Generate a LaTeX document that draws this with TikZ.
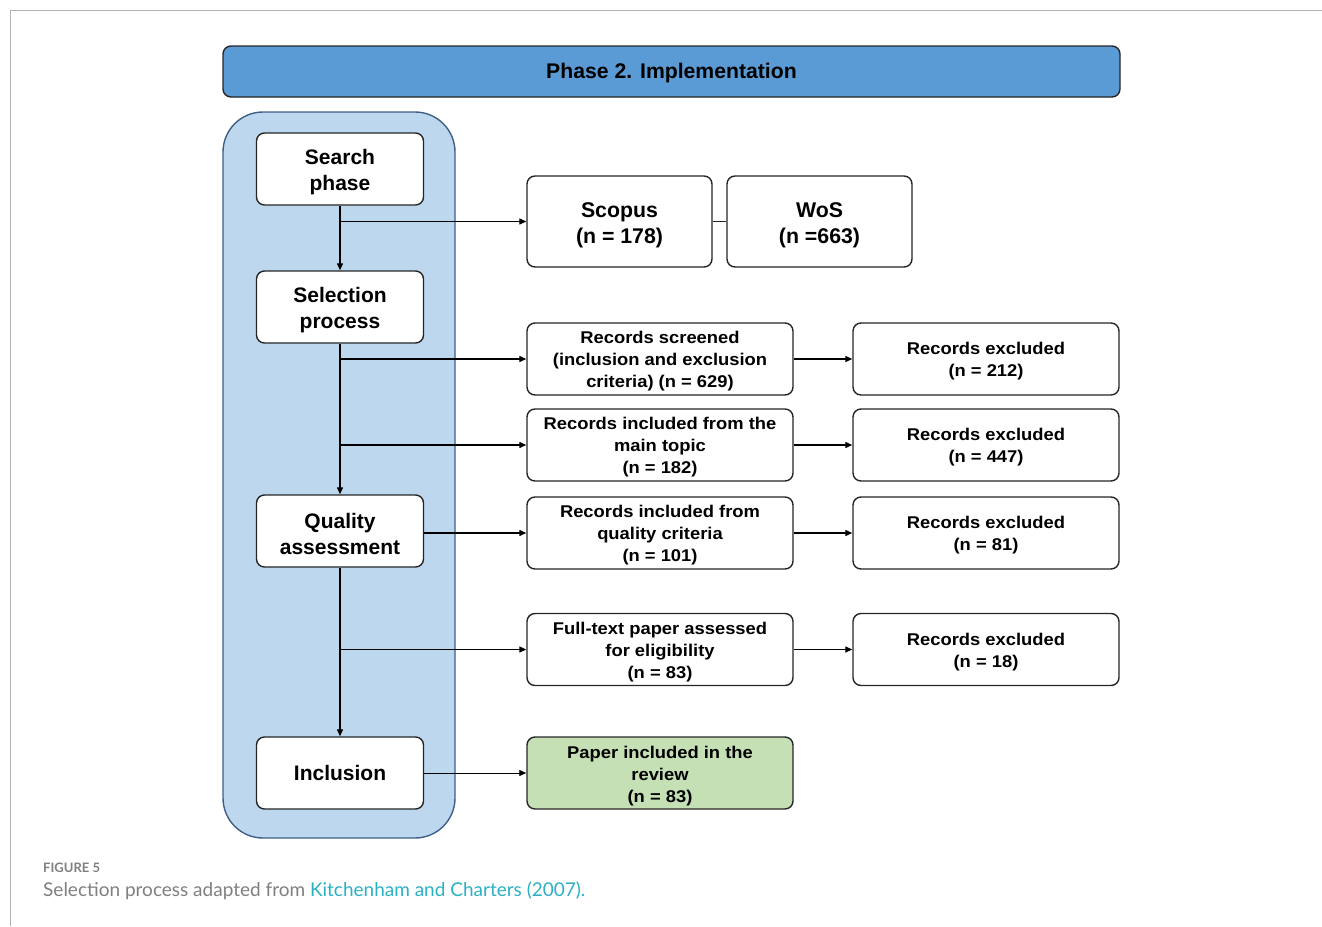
\documentclass[tikz,border=0pt]{standalone}
\usepackage{fontspec}
\setmainfont{Liberation Sans}
\newfontfamily\widesans[FakeStretch=1.08]{Liberation Sans}
\newfontfamily\capfont{Lato}
\usetikzlibrary{arrows.meta}
\definecolor{headblue}{HTML}{5B9BD5}
\definecolor{panelblue}{HTML}{BDD7EE}
\definecolor{panelline}{HTML}{3F5F86}
\definecolor{paleGreen}{HTML}{C5E0B4}
\definecolor{edge}{HTML}{262626}
\definecolor{capgray}{HTML}{7F7F7F}
\definecolor{linkteal}{HTML}{2BB0C4}
% invisible strut on the first line, so multi-line labels sit a little lower
\newcommand\lift{\rule{0pt}{1.03em}}
\tikzset{
  box/.style={draw=edge, line width=1.4pt, rounded corners=8pt, fill=white,
    align=center, inner sep=2pt, font=\widesans\bfseries\fontsize{17}{22}\selectfont},
  stage/.style={box, minimum width=167pt, minimum height=72pt,
    font=\bfseries\fontsize{21}{26}\selectfont},
  result/.style={box, minimum width=266pt, minimum height=72pt},
  source/.style={box, minimum width=185pt, minimum height=91pt,
    font=\bfseries\fontsize{21.3}{26}\selectfont},
  flow/.style={draw=black, line width=1.3pt, -{Triangle[length=7pt,width=6pt]}},
  link/.style={draw=edge, line width=1.3pt}
}
\begin{document}
\begin{tikzpicture}[x=1pt,y=-1pt]
\useasboundingbox (0,0) rectangle (1322,926);
% page frame
\draw[gray!60, line width=1pt] (1322,10) -- (10,10) -- (10,926);

% title bar
\node[draw=edge, line width=1.4pt, rounded corners=8pt, fill=headblue,
  minimum width=897pt, minimum height=51pt,
  font=\bfseries\fontsize{21.2}{24}\selectfont] (head) at (671.5,71.5) {\rule{0pt}{17.5pt}Phase 2. Implementation};

% stage column
\draw[draw=panelline, line width=1.4pt, fill=panelblue, rounded corners=40pt]
  (223,112) rectangle (455,838);

\node[stage] (search)  at (340,169) {\lift Search\\phase};
\node[stage] (select)  at (340,307) {\lift Selection\\process};
\node[stage] (quality) at (340,531) {\lift Quality\\assessment};
\node[stage] (incl)    at (340,773) {Inclusion};

% databases
\node[source] (scopus) at (619.5,221.5) {\lift Scopus\\(n = 178)};
\node[source] (wos)    at (819.5,221.5) {\lift WoS\\(n =663)};

% records
\node[result] (scr)   at (660,359)   {\lift Records screened\\(inclusion and exclusion\\criteria) (n = 629)};
\node[result] (topic) at (660,445)   {\lift Records included from the\\main topic\\(n = 182)};
\node[result] (qual)  at (660,533)   {\lift Records included from\\quality criteria\\(n = 101)};
\node[result] (full)  at (660,649.5) {\lift Full-text paper assessed\\for eligibility\\(n = 83)};
\node[result, fill=paleGreen] (paper) at (660,773) {\lift Paper included in the\\review\\(n = 83)};

\node[result] (ex1) at (986,359)   {\lift Records excluded\\(n = 212)};
\node[result] (ex2) at (986,445)   {\lift Records excluded\\(n = 447)};
\node[result] (ex3) at (986,533)   {\lift Records excluded\\(n = 81)};
\node[result] (ex4) at (986,649.5) {\lift Records excluded\\(n = 18)};

% branch points on the main spine
\coordinate (b1) at (340,221.5);
\coordinate (b2) at (340,359);
\coordinate (b3) at (340,445);
\coordinate (b4) at (340,649.5);

% main spine
\draw[flow] (search.south) -- (select.north);
\draw[flow] (select.south) -- (quality.north);
\draw[flow] (quality.south) -- (incl.north);

% side branches
\draw[flow] (b1) -- (scopus.west);
\draw[link] (scopus.east) -- (wos.west);
\draw[flow] (b2) -- (scr.west);
\draw[flow] (b3) -- (topic.west);
\draw[flow] (quality.east |- qual.west) -- (qual.west);
\draw[flow] (b4) -- (full.west);
\draw[flow, line width=0.8pt] (incl.east) -- (paper.west);

% exclusions
\draw[flow] (scr.east) -- (ex1.west);
\draw[flow] (topic.east) -- (ex2.west);
\draw[flow] (qual.east) -- (ex3.west);
\draw[flow] (full.east) -- (ex4.west);

% caption
\node[anchor=west, text=capgray, font=\capfont\bfseries\fontsize{13}{15}\selectfont, inner sep=0pt]
  (figlabel) at (43,868) {FIGURE 5};
\node[anchor=west, text=capgray, font=\capfont\fontsize{19}{22}\selectfont, inner sep=0pt]
  (figcap) at (43,891) {Selection process adapted from \textcolor{linkteal}{Kitchenham and Charters (2007).}};
\end{tikzpicture}
\end{document}
